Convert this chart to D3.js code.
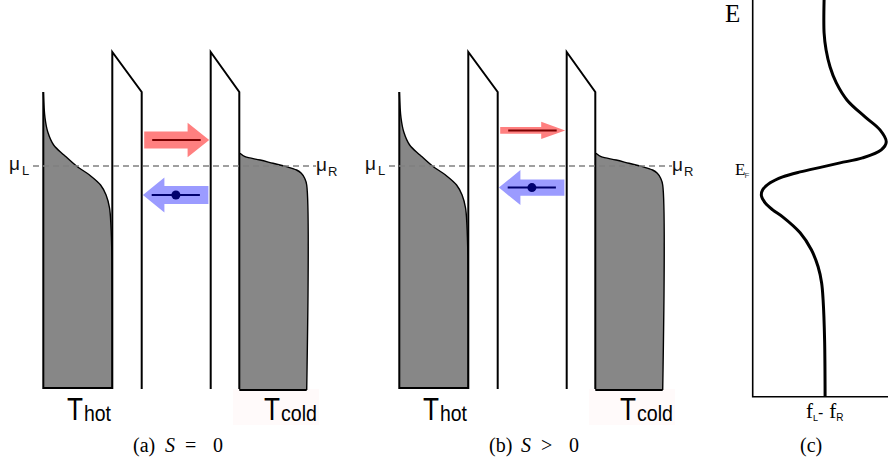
<!DOCTYPE html>
<html>
<head>
<meta charset="utf-8">
<script src="https://cdn.jsdelivr.net/npm/d3@7"></script>
<style>
html,body{margin:0;padding:0;background:#fff;}
svg{display:block;}
</style>
</head>
<body>
<svg id="chart" width="888" height="465"></svg>
<script>
// ---------- data ----------
// hot reservoir occupation f(E), E relative to mu (arbitrary units)
const E_hot = [3.7, 2.4, 1.7, 1.05, 0.55, 0, -0.45, -0.95, -1.45, -2.1, -2.95, -4.7, -11.1];
const f_hot = [0, 0.025, 0.065, 0.15, 0.3, 0.48, 0.67, 0.83, 0.91, 0.96, 0.98, 0.995, 1];
// cold reservoir occupation
const E_cold = [0.635, 0.465, 0.3, 0.135, -0.035, -0.2, -0.365, -0.615, -0.95, -11.2];
const f_cold = [0.01, 0.085, 0.31, 0.5, 0.70, 0.85, 0.92, 0.97, 1.0, 1.0];
// barrier energies
const barrierE = [5.7, 3.7];           // top corner, shoulder
const bandBottomE = -11.1;
// arrow energies per panel [red (right), blue (left)]
const arrowE = [[1.3, -1.45], [1.78, -1.08]];
const arrowMag = [[1.0, 1.0], [0.4, 0.95]];
// panel captions
const captions = [["(a) ", "S", "=", "0"], ["(b) ", "S", ">", "0"], ["(c)", "", "", ""]];
// reservoir labels
const tempLabels = [["T", "hot"], ["T", "cold"]];
// panel (c): f_L - f_R versus E
const E_c = [8.4, 6.75, 5.9, 5.05, 4.25, 3.4, 2.55, 1.9, 1.3, 0.9, 0.5, 0.25, 0.05, -0.2, -0.45, -0.75, -1.1, -1.4, -1.75, -2.1, -2.45, -3.25, -4.1, -4.95, -5.75, -6.6, -8.6, -11.45];
const diff_c = [-0.008, -0.008, 0.008, 0.04, 0.09, 0.175, 0.32, 0.44, 0.49, 0.45, 0.30, 0.12, -0.02, -0.2, -0.34, -0.44, -0.50, -0.51, -0.48, -0.42, -0.34, -0.2, -0.11, -0.056, -0.028, -0.016, -0.004, 0];

// ---------- drawing ----------
const svg = d3.select("#chart");
const hot = E_hot.map((E, i) => ({E, f: f_hot[i]}));
const cold = E_cold.map((E, i) => ({E, f: f_cold[i]}));
const cdat = E_c.map((E, i) => ({E, v: diff_c[i]}));

const yE = d3.scaleLinear().domain([-11.1, 3.7]).range([388, 92]);
const panelOff = [0, 356];
const sans = "'Liberation Sans', Arial, sans-serif";
const serif = "'Liberation Serif', 'DejaVu Serif', serif";
const occCurve = d3.curveCatmullRom.alpha(0.5);

panelOff.forEach((off, p) => {
  const g = svg.append("g");
  const xHot = d3.scaleLinear().domain([0, 1]).range([43.3 + off, 112.3 + off]);
  const xCold = d3.scaleLinear().domain([0, 1]).range([239.3 + off, 306.7 + off]);

  g.append("rect").attr("x", 233 + off).attr("y", 389).attr("width", 86).attr("height", 36).attr("fill", "#fffafa");

  // hot fill
  const areaHot = d3.area().curve(occCurve)
    .y(d => yE(d.E)).x0(xHot(0)).x1(d => xHot(d.f));
  g.append("path").attr("d", areaHot(hot)).attr("fill", "#878787");
  g.append("path").attr("d", d3.line().curve(occCurve).x(d => xHot(d.f)).y(d => yE(d.E))(hot))
    .attr("fill", "none").attr("stroke", "#000").attr("stroke-width", 1.4);
  g.append("path").attr("d", `M${xHot(0)},${yE(E_hot[0])}V${yE(bandBottomE)}H${xHot(1)}`)
    .attr("fill", "none").attr("stroke", "#000").attr("stroke-width", 2);

  // cold fill
  const areaCold = d3.area().curve(occCurve)
    .y(d => yE(d.E)).x0(xCold(0)).x1(d => xCold(d.f));
  g.append("path").attr("d", areaCold(cold)).attr("fill", "#878787");
  g.append("path").attr("d", d3.line().curve(occCurve).x(d => xCold(d.f)).y(d => yE(d.E))(cold))
    .attr("fill", "none").attr("stroke", "#000").attr("stroke-width", 1.4);
  g.append("path").attr("d", `M${xCold(0)},${yE(-11.2)}H${xCold(1)}`)
    .attr("fill", "none").attr("stroke", "#000").attr("stroke-width", 2);

  // barriers
  [[112.3, 141.7], [210.7, 239.3]].forEach(([a, b]) => {
    g.append("path")
      .attr("d", `M${a + off},${yE(-11.15)}V${yE(barrierE[0])}L${b + off},${yE(barrierE[1])}V${yE(-11.15)}`)
      .attr("fill", "none").attr("stroke", "#000").attr("stroke-width", 2).attr("stroke-linejoin", "miter");
  });

  // dashed chemical potential line
  g.append("line").attr("x1", 33 + off).attr("x2", 316 + off).attr("y1", yE(0)).attr("y2", yE(0))
    .attr("stroke", "#808080").attr("stroke-width", 1.3).attr("stroke-dasharray", "6,4");

  // mu labels
  const muL = g.append("text").attr("x", 9 + off).attr("y", 170).attr("font-family", sans).attr("fill", "#111");
  muL.append("tspan").attr("font-size", 19).text("μ");
  muL.append("tspan").attr("font-size", 13).attr("dx", 2).attr("dy", 5).text("L");
  const muR = g.append("text").attr("x", 316 + off).attr("y", 171).attr("font-family", sans).attr("fill", "#111");
  muR.append("tspan").attr("font-size", 19).text("μ");
  muR.append("tspan").attr("font-size", 13).attr("dx", 1).attr("dy", 5).text("R");

  // arrows
  const gapL = 141.7 + off, gapR = 210.7 + off;
  function arrow(x0, x1, yc, sh, hl, hh) {
    const dir = x1 > x0 ? 1 : -1;
    const xb = x1 - dir * hl;
    return `M${x0},${yc - sh}H${xb}V${yc - hh}L${x1},${yc}L${xb},${yc + hh}V${yc + sh}H${x0}Z`;
  }
  const [eR, eB] = arrowE[p];
  const [mR, mB] = arrowMag[p];
  const yR = yE(eR), yB = yE(eB);
  const shR = 8.4 * mR, hhR = mR < 0.9 ? 8.7 : 17.3;
  g.append("path").attr("d", arrow(gapL + 2.5, gapR - 1.5, yR, shR, mR < 0.9 ? 24 : 21.6, hhR))
    .attr("fill", "#ff8080");
  g.append("line").attr("x1", gapL + 10.5).attr("x2", gapR - 10).attr("y1", yR).attr("y2", yR)
    .attr("stroke", "#7a0000").attr("stroke-width", 2);
  const shB = 8.6 * mB / 0.95 * (p === 0 ? 1 : 0.95);
  g.append("path").attr("d", arrow(gapR - 2.3, gapL + 1.2, yB, shB, 21.5, 17.5))
    .attr("fill", "#9b9bff");
  g.append("line").attr("x1", gapL + 10).attr("x2", gapR - 10.8).attr("y1", yB).attr("y2", yB)
    .attr("stroke", "#00006e").attr("stroke-width", 2);
  g.append("circle").attr("cx", gapL + 34.2).attr("cy", yB).attr("r", 4.5).attr("fill", "#00006e");

  // temperature labels (big T with subscript)
  [[67, 84, 27], [264, 281, 36]].forEach(([xT, xS, wS], k) => {
    g.append("text").attr("x", xT + off).attr("y", 420).attr("font-family", sans).attr("font-size", 31)
      .attr("textLength", 16).attr("lengthAdjust", "spacingAndGlyphs").text(tempLabels[k][0]);
    g.append("text").attr("x", xS + off).attr("y", 421).attr("font-family", sans).attr("font-size", 22)
      .attr("textLength", wS).attr("lengthAdjust", "spacingAndGlyphs").text(tempLabels[k][1]);
  });
});

// captions
const capX = [133, 489, 800];
captions.forEach((c, i) => {
  const y = 452;
  const mk = (x, s, it) => svg.append("text").attr("x", x).attr("y", y).attr("font-family", serif)
    .attr("font-size", 20).attr("fill", "#000").attr("font-style", it ? "italic" : "normal").text(s);
  mk(capX[i], c[0], false);
  if (c[1]) {
    mk(capX[i] + 32, c[1], true);
    mk(capX[i] + 52, c[2], false);
    mk(capX[i] + 80, c[3], false);
  }
});

// ---------- panel (c) ----------
const xc = d3.scaleLinear().domain([-0.58, 0.504]).range([752.7, 888]);
const yc = d3.scaleLinear().domain([-11.45, 8.4]).range([396.7, 0]);
svg.append("path").attr("d", `M${xc(-0.58)},${yc(8.4)}V${yc(-11.45)}H888`)
  .attr("fill", "none").attr("stroke", "#000").attr("stroke-width", 1.6);
svg.append("path").attr("d", d3.line().curve(d3.curveCatmullRom).x(d => xc(d.v)).y(d => yc(d.E))(cdat))
  .attr("fill", "none").attr("stroke", "#000").attr("stroke-width", 3);

svg.append("text").attr("x", 725).attr("y", 22).attr("font-family", serif).attr("font-size", 25).text("E");
const ef = svg.append("text").attr("x", 735).attr("y", 175).attr("font-family", serif).attr("font-size", 17);
ef.append("tspan").text("E");
ef.append("tspan").attr("font-family", sans).attr("font-size", 8).attr("fill", "#444").attr("dx", -1).attr("dy", 3).text("F");
const fl = svg.append("text").attr("x", 806).attr("y", 418).attr("font-family", serif).attr("font-size", 21);
fl.append("tspan").text("f");
fl.append("tspan").attr("font-family", sans).attr("font-size", 9).attr("dy", 3).text("L");
fl.append("tspan").attr("font-family", sans).attr("font-size", 16).attr("dy", -3).text("-");
fl.append("tspan").attr("dx", 6).text("f");
fl.append("tspan").attr("font-family", sans).attr("font-size", 10).attr("dy", 3).text("R");
</script>
</body>
</html>
